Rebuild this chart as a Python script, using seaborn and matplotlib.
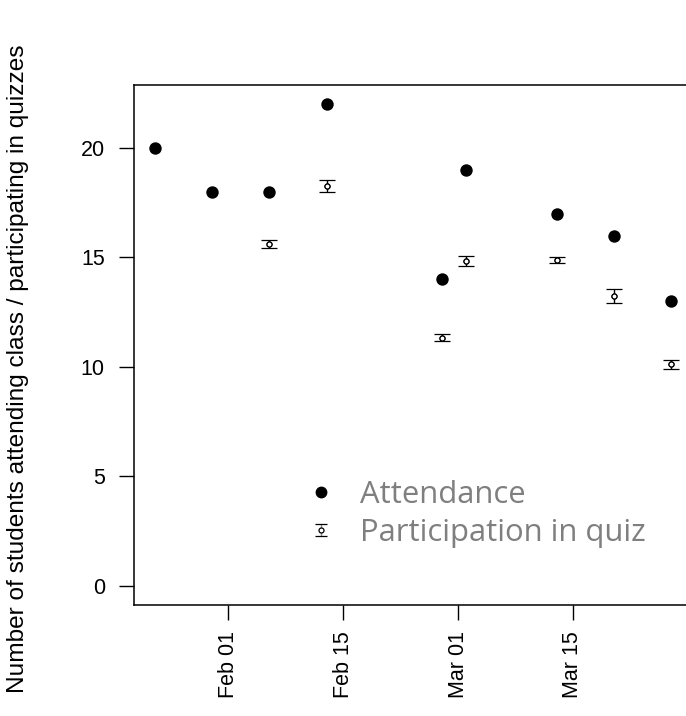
import matplotlib
matplotlib.use("Agg")
import matplotlib.pyplot as plt
import seaborn as sns
import pandas as pd
from matplotlib.lines import Line2D
from matplotlib.collections import LineCollection
from matplotlib.legend_handler import HandlerErrorbar

# ---- data ----
attendance_dates = ["2015-01-23", "2015-01-30", "2015-02-06", "2015-02-13",
                    "2015-02-27", "2015-03-02", "2015-03-13", "2015-03-20", "2015-03-27"]
attendance = [20, 18, 18, 22, 14, 19, 17, 16, 13]

quiz_dates = ["2015-02-06", "2015-02-13", "2015-02-27", "2015-03-02",
              "2015-03-13", "2015-03-20", "2015-03-27"]
quiz_mean = [15.63, 18.27, 11.33, 14.83, 14.88, 13.25, 10.11]
quiz_err = [0.18, 0.29, 0.16, 0.22, 0.13, 0.32, 0.19]

xtick_dates = ["2015-02-01", "2015-02-15", "2015-03-01", "2015-03-15"]
xtick_labels = ["Feb 01", "Feb 15", "Mar 01", "Mar 15"]
yticks = [0, 5, 10, 15, 20]
legend_labels = ["Attendance", "Participation in quiz"]
ylabel = "Number of students attending class / participating in quizzes"

att_df = pd.DataFrame({"date": pd.to_datetime(attendance_dates), "n": attendance})
quiz_df = pd.DataFrame({"date": pd.to_datetime(quiz_dates), "mean": quiz_mean, "err": quiz_err})

plt.rcParams["font.family"] = ["Liberation Sans", "DejaVu Sans"]

fig = plt.figure(figsize=(6.86, 7.16), dpi=100)
ax = fig.add_axes([134 / 686, 1 - 605 / 716, 558 / 686, 520 / 716])

sns.scatterplot(data=att_df, x="date", y="n", ax=ax, color="black",
                s=80, edgecolor="black", linewidth=0, marker="o", zorder=3, legend=False)

eb = ax.errorbar(quiz_df["date"], quiz_df["mean"], yerr=quiz_df["err"], fmt="o",
                 ms=3.6, mfc="white", mec="black", mew=0.9, ecolor="black",
                 elinewidth=1.0, capsize=6, capthick=1.0, zorder=2)
sns.scatterplot(data=quiz_df, x="date", y="mean", ax=ax, s=13, facecolor="white",
                edgecolor="black", linewidth=0.9, zorder=4, legend=False)

ax.set_xlim(pd.Timestamp("2015-01-20 11:30"), pd.Timestamp("2015-03-29 12:30"))
ax.set_ylim(-0.88, 22.88)
ax.set_xticks(pd.to_datetime(xtick_dates))
ax.set_xticklabels(xtick_labels, rotation=90)
ax.set_yticks(yticks)
ax.set_yticklabels([str(v) for v in yticks])

ax.tick_params(axis="both", direction="out", length=11, width=1.0, color="black",
               labelsize=15.5, labelcolor="black")
ax.tick_params(axis="y", pad=10)
ax.tick_params(axis="x", pad=8)
for s in ax.spines.values():
    s.set_linewidth(1.1)
    s.set_color("black")

ax.set_xlabel("")
ax.set_ylabel(ylabel, fontsize=17.6)
ax.yaxis.set_label_coords(-0.188, 0.454)

att_handle = Line2D([], [], marker="o", linestyle="none", color="black", markersize=7.5)
leg = ax.legend([att_handle, eb], legend_labels, loc="center left",
                bbox_to_anchor=(0.308, 0.175), frameon=False, handlelength=1.0,
                handletextpad=0.74, labelspacing=0.25, borderpad=0, borderaxespad=0,
                labelcolor="#7f7f7f", prop={"family": "Open Sans", "size": 22.3},
                handler_map={type(eb): HandlerErrorbar(xerr_size=0.3, yerr_size=0.2)})

# soften the quiz key to grey like the reference
for art in leg.findobj(LineCollection):
    art.set_color("#888888")
for art in leg.findobj(Line2D):
    if art.get_marker() in ("_",):
        art.set_color("#888888")
        art.set_markersize(8)

fig.savefig("out.png", dpi=100)
